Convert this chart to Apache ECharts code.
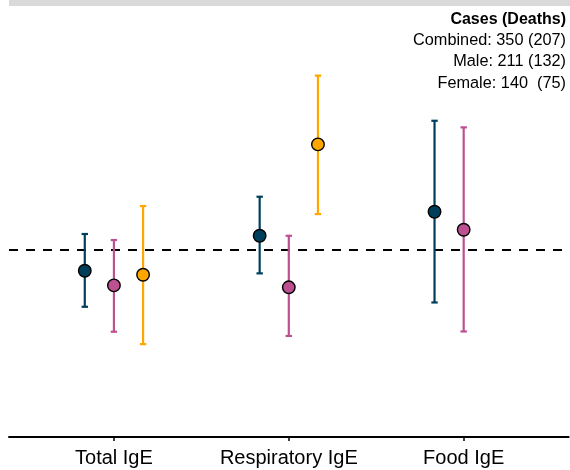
<!DOCTYPE html>
<html><head><meta charset="utf-8">
<script src="https://cdn.jsdelivr.net/npm/echarts@6/dist/echarts.min.js"></script>
<style>html,body{margin:0;padding:0;background:#fff}#c{width:570px;height:470px}</style>
</head><body><div id="c"></div>
<script>
const categories = ['Total IgE', 'Respiratory IgE', 'Food IgE'];
const groupNames = ['Combined', 'Male', 'Female'];
const combinedEst  = [0.871, 1.100, 1.291];
const combinedLow  = [0.685, 0.856, 0.705];
const combinedHigh = [1.113, 1.427, 2.368];
const maleEst  = [0.790, 0.780, 1.145];
const maleLow  = [0.580, 0.564, 0.581];
const maleHigh = [1.069, 1.100, 2.266];
const femaleEst  = [0.848, 2.023, null];
const femaleLow  = [0.534, 1.271, null];
const femaleHigh = [1.341, 3.200, null];
const refValue = 1;
const legendTitle = 'Cases (Deaths)';
const legendLines = ['Combined: 350 (207)', 'Male: 211 (132)', 'Female: 140  (75)'];

const groupColors = ['#003f5c', '#bc5090', '#ffa600'];
const dodge = [-1 / 6, 0, 1 / 6];
const groupData = [
  [combinedEst, combinedLow, combinedHigh],
  [maleEst, maleLow, maleHigh],
  [femaleEst, femaleLow, femaleHigh]
];

function errRender(params, api) {
  const x = api.value(0), lo = api.value(1), hi = api.value(2);
  const p1 = api.coord([x, hi]);
  const p2 = api.coord([x, lo]);
  const c = api.visual('color');
  const cap = 3.2, lw = 2.2;
  const st = { stroke: c, lineWidth: lw };
  return {
    type: 'group', children: [
      { type: 'line', shape: { x1: p1[0], y1: p1[1], x2: p2[0], y2: p2[1] }, style: st },
      { type: 'line', shape: { x1: p1[0] - cap, y1: p1[1], x2: p1[0] + cap, y2: p1[1] }, style: st },
      { type: 'line', shape: { x1: p2[0] - cap, y1: p2[1], x2: p2[0] + cap, y2: p2[1] }, style: st }
    ]
  };
}

const series = [];
groupData.forEach((g, gi) => {
  const [est, lo, hi] = g;
  const barData = [], ptData = [];
  categories.forEach((c, ci) => {
    if (est[ci] == null) return;
    const x = ci + 1 + dodge[gi];
    barData.push([x, lo[ci], hi[ci]]);
    ptData.push([x, est[ci]]);
  });
  series.push({
    name: groupNames[gi], type: 'custom', renderItem: errRender,
    data: barData, encode: { x: 0, y: [1, 2] },
    itemStyle: { color: groupColors[gi] }, z: 3, silent: true
  });
  series.push({
    name: groupNames[gi], type: 'scatter', data: ptData,
    symbol: 'circle', symbolSize: 12.5,
    itemStyle: { color: groupColors[gi], borderColor: '#000', borderWidth: 1.4, opacity: 1 },
    z: 5, silent: true
  });
});
series[0].markLine = {
  silent: true, symbol: 'none', label: { show: false },
  lineStyle: { color: '#000', width: 2, type: [9, 8] },
  data: [{ yAxis: refValue }], z: 1
};

const textFont = 'Liberation Sans, Arial, Helvetica, sans-serif';
const graphic = [
  { type: 'rect', shape: { x: 9, y: 0, width: 561, height: 6 }, style: { fill: '#d9d9d9' }, silent: true },
  { type: 'text', x: 566, y: 20, style: { text: legendTitle, align: 'right', verticalAlign: 'middle',
      font: 'bold 16px ' + textFont, fill: '#000' } }
];
legendLines.forEach((t, i) => {
  graphic.push({ type: 'text', x: 566, y: 40.5 + i * 21.3, style: { text: t, align: 'right', verticalAlign: 'middle',
      font: '16.3px ' + textFont, fill: '#000' } });
});

const chart = echarts.init(document.getElementById('c'), null, { renderer: 'canvas' });
chart.setOption({
  animation: false,
  backgroundColor: '#fff',
  grid: { left: 9, right: 1.4, top: 6, bottom: 33, containLabel: false },
  xAxis: {
    type: 'value', min: 0.4, max: 3.6,
    axisLine: { show: true, onZero: false, lineStyle: { color: '#000', width: 2 } },
    axisTick: { show: true, customValues: [1, 2, 3], length: 4, lineStyle: { color: '#000', width: 1.5 } },
    axisLabel: { show: true, customValues: [1, 2, 3], margin: 11, fontSize: 20, color: '#000',
      fontFamily: textFont, formatter: v => categories[Math.round(v) - 1] || '' },
    splitLine: { show: false }
  },
  yAxis: { type: 'log', logBase: Math.E, min: 0.2875, max: 5.09, show: false,
    splitLine: { show: false } },
  graphic: graphic,
  series: series
});
</script>
</body></html>
